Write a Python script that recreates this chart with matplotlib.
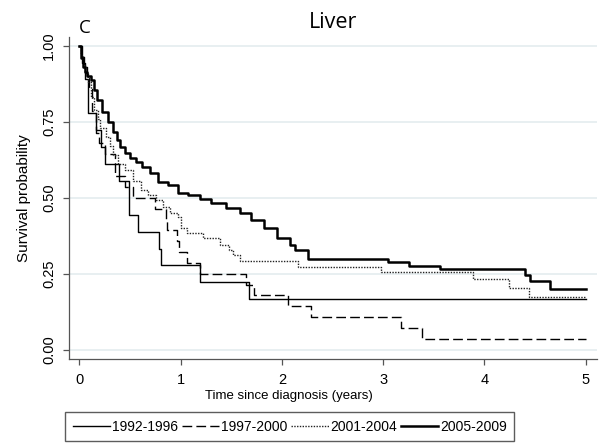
import matplotlib
matplotlib.use('Agg')
import matplotlib.pyplot as plt
from matplotlib import rcParams

rcParams['font.family'] = ['Liberation Sans', 'DejaVu Sans']

# Kaplan-Meier step curves (time in years, survival)
t_9296 = [0, 0.03, 0.06, 0.09, 0.165, 0.21, 0.25, 0.39, 0.49, 0.576, 0.79, 0.81, 1.19, 1.675, 5.0]
s_9296 = [1, 0.944, 0.889, 0.778, 0.722, 0.667, 0.611, 0.556, 0.444, 0.389, 0.333, 0.278, 0.222, 0.167, 0.167]

t_9700 = [0, 0.02, 0.05, 0.08, 0.10, 0.13, 0.16, 0.19, 0.25, 0.35, 0.45, 0.53, 0.75, 0.86, 0.87,
          0.967, 0.98, 1.06, 1.19, 1.65, 1.73, 2.06, 2.29, 3.18, 3.38, 5.0]
s_9700 = [1, 0.964, 0.929, 0.893, 0.857, 0.786, 0.714, 0.679, 0.643, 0.571, 0.536, 0.5, 0.464, 0.429, 0.393,
          0.357, 0.321, 0.286, 0.25, 0.214, 0.179, 0.143, 0.107, 0.071, 0.036, 0.036]

t_0104 = [0, 0.02, 0.04, 0.06, 0.09, 0.12, 0.15, 0.18, 0.20, 0.26, 0.30, 0.33, 0.38, 0.45, 0.53, 0.61,
          0.68, 0.76, 0.83, 0.90, 0.97, 1.00, 1.06, 1.22, 1.39, 1.48, 1.52, 1.59, 2.16, 2.98, 3.89, 4.24, 4.44, 5.0]
s_0104 = [1, 0.97, 0.94, 0.91, 0.88, 0.83, 0.79, 0.76, 0.73, 0.70, 0.67, 0.64, 0.61, 0.59, 0.555, 0.526,
          0.509, 0.493, 0.471, 0.45, 0.438, 0.40, 0.384, 0.367, 0.345, 0.329, 0.312, 0.293, 0.274, 0.257, 0.232, 0.203, 0.175, 0.175]

t_0509 = [0, 0.02, 0.04, 0.055, 0.08, 0.12, 0.145, 0.17, 0.22, 0.285, 0.33, 0.37, 0.405, 0.45, 0.5, 0.56,
          0.62, 0.7, 0.78, 0.88, 0.97, 1.07, 1.19, 1.3, 1.45, 1.59, 1.7, 1.82, 1.95, 2.08, 2.13, 2.26,
          3.05, 3.26, 3.56, 4.40, 4.45, 4.65, 5.0]
s_0509 = [1, 0.96, 0.93, 0.915, 0.90, 0.887, 0.854, 0.82, 0.783, 0.75, 0.717, 0.69, 0.668, 0.646, 0.63, 0.619,
          0.602, 0.58, 0.553, 0.542, 0.515, 0.509, 0.495, 0.484, 0.466, 0.449, 0.427, 0.40, 0.367, 0.345, 0.329, 0.30,
          0.29, 0.277, 0.265, 0.246, 0.227, 0.20, 0.20]

labels = ['1992-1996', '1997-2000', '2001-2004', '2005-2009']
xticks = [0, 1, 2, 3, 4, 5]
yticks = [0.0, 0.25, 0.5, 0.75, 1.0]

fig = plt.figure(figsize=(6.04, 4.44), dpi=100, facecolor='white')
ax = fig.add_axes([0.1147, 0.1907, 0.8733, 0.727])

ax.step(t_9296, s_9296, where='post', color='black', lw=1.0, label=labels[0])
ax.step(t_9700, s_9700, where='post', color='black', lw=1.0, dashes=(7, 3), label=labels[1])
ax.step(t_0104, s_0104, where='post', color='#222222', lw=1.0, linestyle=(0, (1, 1)), label=labels[2])
ax.step(t_0509, s_0509, where='post', color='black', lw=1.8, label=labels[3])

ax.set_xlim(-0.099, 5.11)
ax.set_ylim(-0.031, 1.03)
ax.set_xticks(xticks)
ax.set_xticklabels([str(x) for x in xticks])
ax.set_yticks(yticks)
ax.set_yticklabels(['%.2f' % y for y in yticks], rotation=90, va='center')
ax.tick_params(length=4.5, width=0.9, color='#555555', labelsize=10.5, pad=5)
ax.yaxis.grid(True, color='#e6eef0', lw=1.3)
ax.set_axisbelow(True)
for side in ['top', 'right']:
    ax.spines[side].set_visible(False)
for side in ['left', 'bottom']:
    ax.spines[side].set_color('#555555')
    ax.spines[side].set_linewidth(0.9)

ax.set_ylabel('Survival probability', fontsize=11)
ax.yaxis.set_label_coords(-0.0726, 0.5)
ax.set_xlabel('Time since diagnosis (years)', fontsize=9.5)
ax.xaxis.set_label_coords((289 - 69.3) / (597 - 69.3), -0.095)

fig.text(333.5 / 604, 1 - 28.5 / 444, 'Liver', fontsize=15.5, family=['Open Sans', 'DejaVu Sans'],
         ha='center', va='baseline')
fig.text(79 / 604, 1 - 33 / 444, 'C', fontsize=13.5, family=['Open Sans', 'DejaVu Sans'],
         ha='left', va='baseline')

leg = fig.legend(loc='upper left', bbox_to_anchor=(65 / 604, 1 - 412 / 444), ncol=4,
                 fontsize=10, frameon=True, fancybox=False, edgecolor='#333333',
                 handlelength=2.7, handletextpad=0.1, columnspacing=0.3,
                 borderpad=0.55, borderaxespad=0)
leg.get_frame().set_linewidth(1.0)

fig.savefig('out.png', dpi=100)
